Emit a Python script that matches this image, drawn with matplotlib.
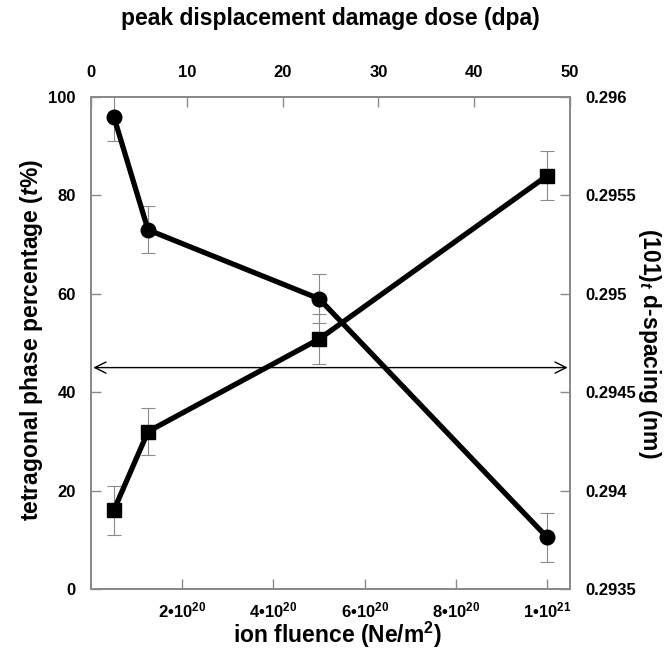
import matplotlib
matplotlib.use("Agg")
import matplotlib.pyplot as plt
from matplotlib.ticker import FixedLocator

plt.rcParams['font.family'] = ['Liberation Sans', 'DejaVu Sans']
plt.rcParams['font.weight'] = 'bold'
plt.rcParams['mathtext.fontset'] = 'custom'
plt.rcParams['mathtext.rm'] = 'Liberation Sans:bold'
plt.rcParams['mathtext.it'] = 'Liberation Sans:italic:bold'
plt.rcParams['mathtext.bf'] = 'Liberation Sans:bold'

# ion fluence (Ne/m^2) for each sample
fluence = [5e19, 1.25e20, 5e20, 1e21]
# tetragonal phase percentage and its error
tetra_pct = [96, 73, 59, 10.5]
tetra_err = [5, 4.8, 5, 5]
# (101)_t d-spacing in nm and its error
dspacing = [0.29390, 0.29430, 0.29477, 0.29560]
dspacing_err = [0.000125, 0.00012, 0.000125, 0.000125]

xlim_fluence = (0, 1.05e21)
xlim_dpa = (0, 50)
fluence_ticks = [2e20, 4e20, 6e20, 8e20, 1e21]
fluence_labels = ['2•10$^{20}$', '4•10$^{20}$', '6•10$^{20}$', '8•10$^{20}$', '1•10$^{21}$']
dpa_ticks = [0, 10, 20, 30, 40, 50]
pct_ticks = [0, 20, 40, 60, 80, 100]
d_ticks = [0.2935, 0.294, 0.2945, 0.295, 0.2955, 0.296]
d_labels = ['0.2935', '0.294', '0.2945', '0.295', '0.2955', '0.296']
arrow_level = 45

W, H = 667, 649
fig = plt.figure(figsize=(W / 100, H / 100), dpi=100)
ax = fig.add_axes([91 / W, 1 - 589 / H, 479 / W, 492 / H])
ax_r = ax.twinx()
ax_t = ax.twiny()

grey = '#8a8a8a'
for a in (ax, ax_r, ax_t):
    for s in a.spines.values():
        s.set_color(grey)
        s.set_linewidth(1.2)
    a.tick_params(direction='in', length=7, width=1, color=grey, labelsize=12)

# horizontal double arrow
ax.annotate('', xy=(0.005e21, arrow_level), xytext=(1.045e21, arrow_level),
            arrowprops=dict(arrowstyle='<->', color='black', lw=1.0,
                            mutation_scale=20, shrinkA=0, shrinkB=0),
            zorder=1)

ax.errorbar(fluence, tetra_pct, yerr=tetra_err, fmt='none', ecolor=grey,
            elinewidth=0.8, capsize=5, capthick=0.8, zorder=2)
ax.plot(fluence, tetra_pct, color='black', lw=3.8, marker='o', markersize=10.5, zorder=3)

ax_r.errorbar(fluence, dspacing, yerr=dspacing_err, fmt='none', ecolor=grey,
              elinewidth=0.8, capsize=5, capthick=0.8, zorder=2)
ax_r.plot(fluence, dspacing, color='black', lw=3.8, marker='s', markersize=10.5, zorder=3)

ax.set_xlim(*xlim_fluence)
ax.set_ylim(0, 100)
ax.xaxis.set_major_locator(FixedLocator(fluence_ticks))
ax.set_xticklabels(fluence_labels)
ax.set_yticks(pct_ticks)
ax.tick_params(axis='x', pad=8)
ax.tick_params(axis='y', pad=11)

ax_r.set_ylim(0.2935, 0.296)
ax_r.set_yticks(d_ticks)
ax_r.set_yticklabels(d_labels)
ax_r.tick_params(axis='y', pad=11)

ax_t.set_xlim(*xlim_dpa)
ax_t.set_xticks(dpa_ticks)
ax_t.tick_params(axis='x', pad=12)

# axis titles placed in figure pixels
fs = 16.5
fig.text(337 / W, 1 - 643 / H, 'ion fluence (Ne/m$^2$)', fontsize=fs,
         fontweight='bold', ha='center', va='baseline')
fig.text(330 / W, 1 - 18 / H, 'peak displacement damage dose (dpa)', fontsize=fs,
         fontweight='bold', ha='center', va='center')
fig.text(32 / W, 1 - 340 / H, 'tetragonal phase percentage ($\\mathit{t}$%)',
         fontsize=fs, fontweight='bold', rotation=90, ha='center', va='center')
fig.text(649 / W, 1 - 343 / H, '(101)$_\\mathit{t}$ d-spacing (nm)', fontsize=fs,
         fontweight='bold', rotation=270, ha='center', va='center')

fig.savefig('out.png', dpi=100)
